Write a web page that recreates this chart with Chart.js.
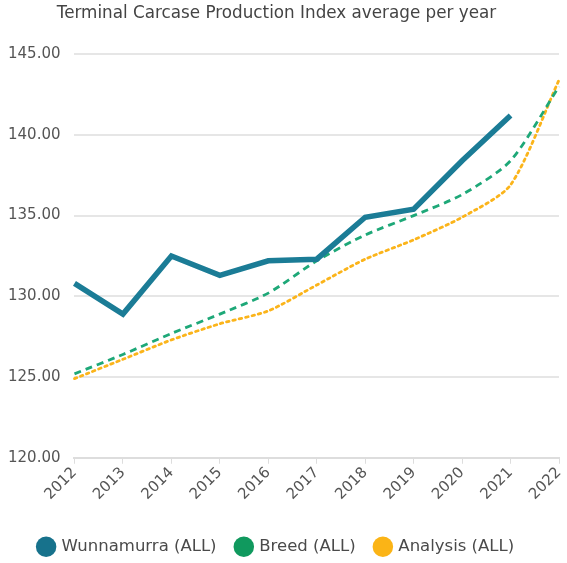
<!DOCTYPE html>
<html>
<head>
<meta charset="utf-8">
<script src="https://cdn.jsdelivr.net/npm/chart.js@4.4.1/dist/chart.umd.min.js"></script>
<style>
    html, body { margin: 0; padding: 0; background: #fff; }
    #wrap { width: 567px; height: 563px; }
</style>
</head>
<body>
<div id="wrap"><canvas id="chart"></canvas></div>
<script>
// Chart data
var years = ['2012', '2013', '2014', '2015', '2016', '2017', '2018', '2019', '2020', '2021', '2022'];
var wunnamurra = [130.8, 128.9, 132.5, 131.3, 132.2, 132.3, 134.9, 135.4, 138.4, 141.2, null];
var breed = [125.2, 126.4, 127.7, 128.9, 130.2, 132.2, 133.8, 135.0, 136.3, 138.4, 143.0];
var analysis = [124.9, 126.1, 127.3, 128.3, 129.1, 130.7, 132.3, 133.5, 134.9, 136.9, 143.4];

var yTicks = [120, 125, 130, 135, 140, 145];

var fontFamily = '"DejaVu Sans", Verdana, sans-serif';

// Legend dots: solid fill, no outline
function legendLabels(chart) {
    var items = Chart.defaults.plugins.legend.labels.generateLabels(chart);
    items.forEach(item => {
        var ds = chart.data.datasets[item.datasetIndex];
        item.fillStyle = ds.legendColor;
        item.strokeStyle = ds.legendColor;
        item.lineWidth = 0;
        item.lineDash = [];
    });
    return items;
}

function showChart(canvas) {
    var config = {
        type: 'line',
        data: {
            labels: years,
            datasets: [
                {
                    label: 'Wunnamurra (ALL)',
                    data: wunnamurra,
                    borderColor: '#1b7c96',
                    legendColor: '#17728c',
                    borderWidth: 5.5,
                    pointRadius: 0,
                    tension: 0
                },
                {
                    label: 'Breed (ALL)',
                    data: breed,
                    borderColor: '#1ea878',
                    legendColor: '#10995e',
                    borderWidth: 2.8,
                    borderDash: [7, 5],
                    pointRadius: 0,
                    tension: 0.25
                },
                {
                    label: 'Analysis (ALL)',
                    data: analysis,
                    borderColor: '#fbb41a',
                    legendColor: '#fbb416',
                    borderWidth: 2.8,
                    borderDash: [2.5, 4],
                    borderCapStyle: 'round',
                    pointRadius: 0,
                    tension: 0.25
                }
            ]
        },
        options: {
            responsive: true,
            maintainAspectRatio: false,
            animation: false,
            layout: { padding: { left: -6, right: 8, top: 2, bottom: -2 } },
            plugins: {
                title: {
                    display: true,
                    text: 'Terminal Carcase Production Index average per year',
                    color: '#444',
                    font: { family: fontFamily, size: 16.8, weight: 'normal' },
                    padding: { top: 2, bottom: 30 }
                },
                legend: {
                    position: 'bottom',
                    labels: {
                        usePointStyle: true,
                        pointStyle: 'circle',
                        boxWidth: 14.5,
                        boxHeight: 14.5,
                        padding: 20,
                        color: '#4a4a4a',
                        font: { family: fontFamily, size: 16.5 },
                        generateLabels: legendLabels
                    }
                },
                tooltip: { enabled: false }
            },
            scales: {
                x: {
                    afterFit: (axis) => {
                        axis.height += 15;      // extra room between the year labels and the legend
                        axis.paddingRight = 0;  // let the last year label run to the edge
                    },
                    grid: {
                        display: true,
                        drawOnChartArea: false,
                        drawTicks: true,
                        tickLength: 6,
                        color: '#ddd'
                    },
                    border: { display: true, color: '#ddd', width: 2 },
                    ticks: {
                        color: '#555',
                        maxRotation: 45,
                        minRotation: 45,
                        padding: 0,
                        font: { family: fontFamily, size: 15 }
                    }
                },
                y: {
                    min: yTicks[0],
                    max: yTicks[yTicks.length - 1],
                    afterBuildTicks: (axis) => { axis.ticks = yTicks.map(v => ({ value: v })); },
                    grid: { color: '#e6e6e6', lineWidth: 2, drawTicks: false },
                    border: { display: false },
                    ticks: {
                        color: '#555',
                        padding: 14,
                        font: { family: fontFamily, size: 15 },
                        callback: (v) => Number(v).toFixed(2)
                    }
                }
            }
        }
    };
    return new Chart(canvas, config);
}

showChart(document.getElementById('chart'));
</script>
</body>
</html>
